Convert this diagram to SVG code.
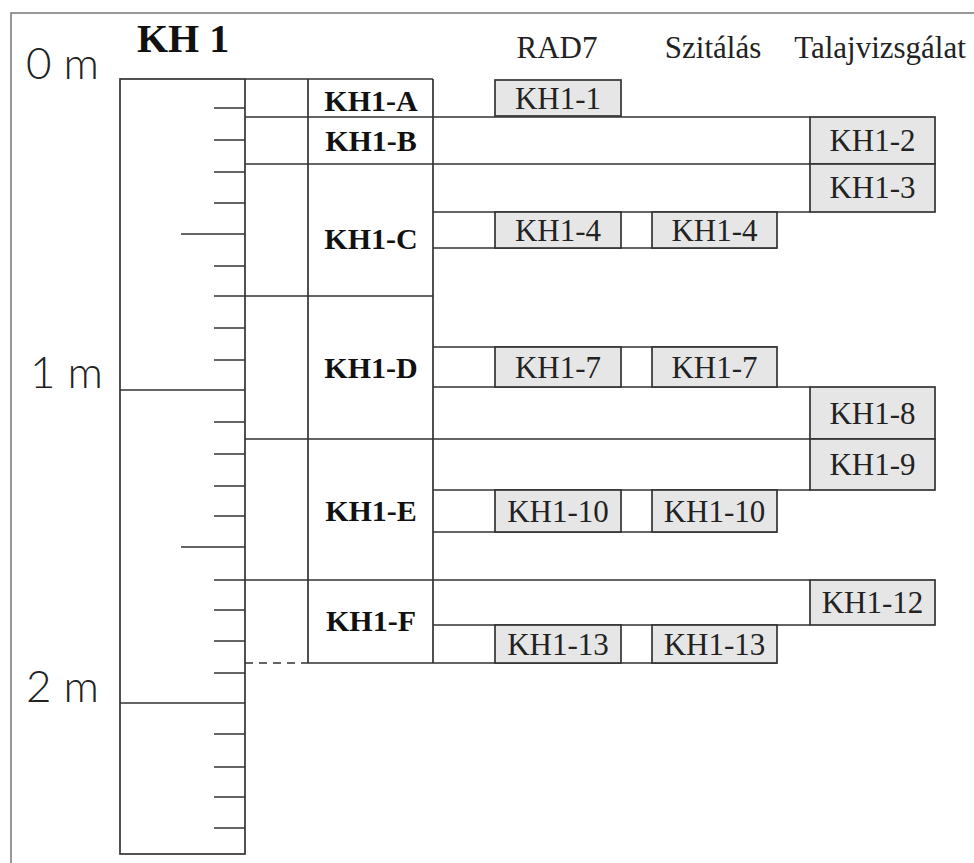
<svg xmlns="http://www.w3.org/2000/svg" width="974" height="863" viewBox="0 0 974 863">
<style>
.ln{stroke:#333;stroke-width:1.7;fill:none}
.dash{stroke:#333;stroke-width:1.7;fill:none;stroke-dasharray:8,6}
.frame{stroke:#777;stroke-width:1.5;fill:none}
.box{fill:#e6e6e6;stroke:#333;stroke-width:1.7}
.cell{fill:none;stroke:#333;stroke-width:1.7}
.smp{font-family:"Liberation Serif",serif;font-size:31px;fill:#222;text-anchor:middle}
.hdr{font-family:"Liberation Serif",serif;font-size:31px;fill:#222;text-anchor:middle}
.lay{font-family:"Liberation Serif",serif;font-size:30px;font-weight:bold;fill:#111;text-anchor:middle}
.dep{font-family:Lato,"Liberation Sans",sans-serif;font-weight:300;font-size:44px;fill:#222}
.ttl{font-family:"Liberation Serif",serif;font-size:40px;font-weight:bold;fill:#111}
</style>
<rect x="0" y="0" width="974" height="863" fill="#fff"/>
<rect class="frame" x="11" y="13" width="970" height="870"/>

<g id="title"><text class="ttl" x="137" y="52">KH 1</text></g>
<g id="depth-labels">
<text class="dep" x="26" y="79">0 m</text>
<text class="dep" x="30" y="388">1 m</text>
<text class="dep" x="26" y="702">2 m</text>
</g>
<g id="headers">
<text class="hdr" x="557" y="58">RAD7</text>
<text class="hdr" x="713" y="58">Szitálás</text>
<text class="hdr" x="880" y="58">Talajvizsgálat</text>
</g>

<g id="scale">
<rect class="cell" x="120" y="79" width="125" height="775"/>
<path class="ln" d="M214 108H245M214 140H245M214 172H245M214 203H245M181 234H245M214 266H245M214 328H245M214 360H245M120 390H245M214 422H245M214 454H245M214 486H245M214 516H245M181 547H245M214 610H245M214 641H245M214 673H245M120 703H245M214 734H245M214 767H245M214 797H245M214 828H245"/>
</g>

<g id="connectors">
<path class="ln" d="M245 79H433M308 79V663M433 79V663"/>
<path class="ln" d="M245 117H810M245 164H810M433 212H810M433 248H777M214 296H433M433 347H777M433 387H810M245 439H810M433 490H810M433 532H777M214 580H810M433 625H810M308 663H777"/>
<path class="dash" d="M245 663H308"/>
</g>

<g id="KH1-A"><text class="lay" x="371" y="111">KH1-A</text></g>
<g id="KH1-B"><text class="lay" x="371" y="151">KH1-B</text></g>
<g id="KH1-C"><text class="lay" x="371" y="249">KH1-C</text></g>
<g id="KH1-D"><text class="lay" x="371" y="378">KH1-D</text></g>
<g id="KH1-E"><text class="lay" x="371" y="521">KH1-E</text></g>
<g id="KH1-F"><text class="lay" x="371" y="631">KH1-F</text></g>

<g id="s-KH1-1"><rect class="box" x="495" y="80" width="126" height="36"/><text class="smp" x="558" y="109">KH1-1</text></g>
<g id="s-KH1-2"><rect class="box" x="810" y="117" width="125" height="47"/><text class="smp" x="872.5" y="151">KH1-2</text></g>
<g id="s-KH1-3"><rect class="box" x="810" y="164" width="125" height="48"/><text class="smp" x="872.5" y="198">KH1-3</text></g>
<g id="s-KH1-4a"><rect class="box" x="495" y="212" width="126" height="36"/><text class="smp" x="558" y="241">KH1-4</text></g>
<g id="s-KH1-4b"><rect class="box" x="652" y="212" width="125" height="36"/><text class="smp" x="714.5" y="241">KH1-4</text></g>
<g id="s-KH1-7a"><rect class="box" x="495" y="347" width="126" height="40"/><text class="smp" x="558" y="378">KH1-7</text></g>
<g id="s-KH1-7b"><rect class="box" x="652" y="347" width="125" height="40"/><text class="smp" x="714.5" y="378">KH1-7</text></g>
<g id="s-KH1-8"><rect class="box" x="810" y="387" width="125" height="52"/><text class="smp" x="872.5" y="424">KH1-8</text></g>
<g id="s-KH1-9"><rect class="box" x="810" y="439" width="125" height="51"/><text class="smp" x="872.5" y="475">KH1-9</text></g>
<g id="s-KH1-10a"><rect class="box" x="495" y="490" width="126" height="42"/><text class="smp" x="558" y="522">KH1-10</text></g>
<g id="s-KH1-10b"><rect class="box" x="652" y="490" width="125" height="42"/><text class="smp" x="714.5" y="522">KH1-10</text></g>
<g id="s-KH1-12"><rect class="box" x="810" y="580" width="125" height="45"/><text class="smp" x="872.5" y="613">KH1-12</text></g>
<g id="s-KH1-13a"><rect class="box" x="495" y="625" width="126" height="38"/><text class="smp" x="558" y="655">KH1-13</text></g>
<g id="s-KH1-13b"><rect class="box" x="652" y="625" width="125" height="38"/><text class="smp" x="714.5" y="655">KH1-13</text></g>
</svg>
